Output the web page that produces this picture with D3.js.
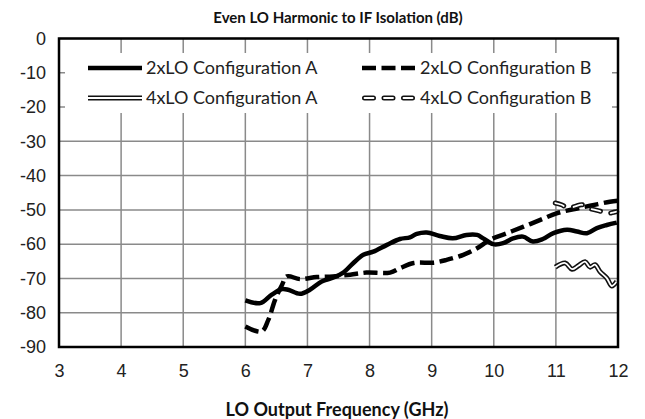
<!DOCTYPE html>
<meta charset="utf-8">
<style type="text/css">
body {
  margin: 0;
  background: #fff;
  font-family: Lato, "Liberation Sans", sans-serif;
}

.axis text {
  font-size: 18px;
  fill: #222;
}

.axis path {
  display: none;
}

.grid line {
  stroke: #8a8a8a;
  stroke-width: 1.5px;
}

.legend text {
  font-size: 18px;
  fill: #222;
}

.title {
  font-weight: bold;
  fill: #111;
}
</style>
<body>
</body>

<script src="https://cdn.jsdelivr.net/npm/d3@7"></script>
<script>
var xTicks = [3, 4, 5, 6, 7, 8, 9, 10, 11, 12];
var yTicks = [0, -10, -20, -30, -40, -50, -60, -70, -80, -90];

var freqA2 = [6.0, 6.24, 6.42, 6.59, 6.69, 6.88, 7.04, 7.23, 7.41, 7.57, 7.74, 7.9, 8.06, 8.28, 8.49, 8.65, 8.76, 8.92, 9.13, 9.34, 9.56, 9.73, 9.83, 9.99, 10.15, 10.31, 10.47, 10.63, 10.79, 10.96, 11.18, 11.34, 11.5, 11.66, 11.82, 11.98];
var isoA2 = [-76.4, -77.2, -74.8, -73.1, -73.3, -74.5, -73.3, -70.9, -69.8, -68.4, -65.5, -63.1, -62.2, -60.2, -58.5, -58.0, -57.0, -56.6, -57.6, -58.3, -57.3, -57.3, -58.3, -60.0, -59.7, -58.3, -57.8, -59.2, -58.5, -56.8, -55.8, -56.3, -56.8, -55.3, -54.4, -53.7];

var freqB2 = [6.0, 6.26, 6.37, 6.48, 6.59, 6.67, 6.88, 7.15, 7.41, 7.69, 7.95, 8.33, 8.49, 8.71, 9.03, 9.24, 9.51, 9.73, 9.94, 10.21, 10.48, 10.75, 11.01, 11.28, 11.55, 11.87, 12.0];
var isoB2 = [-84.0, -85.5, -82.1, -76.2, -71.9, -69.4, -70.2, -69.6, -69.4, -68.9, -68.3, -68.3, -67.0, -65.5, -65.4, -64.6, -63.1, -61.2, -58.7, -56.8, -54.9, -52.9, -51.0, -49.8, -48.8, -47.6, -47.3];

var freqA4 = [10.99, 11.15, 11.26, 11.36, 11.47, 11.55, 11.63, 11.71, 11.82, 11.9, 11.98];
var isoA4 = [-66.7, -65.5, -67.3, -66.3, -65.1, -66.7, -66.0, -68.0, -69.9, -72.2, -70.9];

var freqB4 = [10.99, 11.09, 11.2, 11.31, 11.42, 11.52, 11.63, 11.74, 11.85, 11.93, 11.98];
var isoB4 = [-48.0, -48.5, -49.5, -49.0, -48.5, -49.5, -50.0, -50.5, -51.0, -50.7, -50.5];

var seriesNames = ["2xLO Configuration A", "2xLO Configuration B", "4xLO Configuration A", "4xLO Configuration B"];

var margin = { top: 38.5, right: 27, bottom: 72, left: 59 };
var width = 645 - margin.left - margin.right;
var height = 419 - margin.top - margin.bottom;

var root = d3.select("body")
  .append("svg")
    .attr("width", 645)
    .attr("height", 419);

root.append("rect")
  .attr("width", 645)
  .attr("height", 419)
  .attr("fill", "#fff");

var svg = root.append("g")
  .attr("transform", "translate(" + margin.left + "," + margin.top + ")");

var xscale = d3.scaleLinear()
  .domain([3, 12])
  .range([0, width]);

var yscale = d3.scaleLinear()
  .domain([-90, 0])
  .range([height, 0]);

// gridlines
var grid = svg.append("g").attr("class", "grid");

grid.selectAll("line.v")
  .data(xTicks)
  .enter().append("line")
    .attr("class", "v")
    .attr("x1", function(d) { return xscale(d); })
    .attr("x2", function(d) { return xscale(d); })
    .attr("y1", 0)
    .attr("y2", height);

grid.selectAll("line.h")
  .data(yTicks)
  .enter().append("line")
    .attr("class", "h")
    .attr("x1", 0)
    .attr("x2", width)
    .attr("y1", function(d) { return yscale(d); })
    .attr("y2", function(d) { return yscale(d); });

var xAxis = d3.axisBottom(xscale)
  .tickValues(xTicks)
  .tickSize(0)
  .tickPadding(17)
  .tickFormat(function(d) { return String(d); });

var yAxis = d3.axisLeft(yscale)
  .tickValues(yTicks)
  .tickSize(0)
  .tickPadding(13)
  .tickFormat(function(d) { return String(d); });

svg.append("g")
  .attr("class", "x axis")
  .attr("transform", "translate(0," + height + ")")
  .call(xAxis);

svg.append("g")
  .attr("class", "y axis")
  .call(yAxis);

// legend box covers the grid
var legend = svg.append("g").attr("class", "legend");

legend.append("rect")
  .attr("x", 6)
  .attr("y", 14.5)
  .attr("width", width - 12)
  .attr("height", 60)
  .attr("fill", "#fff");

var line = d3.line()
  .curve(d3.curveCatmullRom)
  .x(function(d) { return xscale(d[0]); })
  .y(function(d) { return yscale(d[1]); });

function pairs(xs, ys) {
  return xs.map(function(x, i) { return [x, ys[i]]; });
}

var styles = [
  { data: pairs(freqA2, isoA2), dash: null, double: false },
  { data: pairs(freqB2, isoB2), dash: "14,5.5", double: false },
  { data: pairs(freqA4, isoA4), dash: null, double: true },
  { data: pairs(freqB4, isoB4), dash: "9,10.5", double: true }
];

function drawStroke(sel, s, gen) {
  if (s.double) {
    sel.append("path")
      .attr("d", gen)
      .attr("fill", "none")
      .attr("stroke", "#111")
      .attr("stroke-width", 5)
      .attr("stroke-linecap", s.dash ? "round" : "butt")
      .attr("stroke-dasharray", s.dash);
    sel.append("path")
      .attr("d", gen)
      .attr("fill", "none")
      .attr("stroke", "#fff")
      .attr("stroke-width", 1.8)
      .attr("stroke-linecap", s.dash ? "round" : "butt")
      .attr("stroke-dasharray", s.dash);
  } else {
    sel.append("path")
      .attr("d", gen)
      .attr("fill", "none")
      .attr("stroke", "#000")
      .attr("stroke-width", 4.5)
      .attr("stroke-dasharray", s.dash);
  }
}

var plot = svg.append("g");
styles.forEach(function(s) {
  drawStroke(plot.append("g"), s, line(s.data));
});

// legend entries
var legendPos = [[29, 29.5], [303, 29.5], [29, 59.5], [303, 59.5]];
seriesNames.forEach(function(name, i) {
  var g = legend.append("g")
    .attr("transform", "translate(" + legendPos[i][0] + "," + legendPos[i][1] + ")");
  var sample = styles[i].dash && styles[i].double ? "M2.5,0H51.5" : "M0,0H54";
  drawStroke(g, styles[i], sample);
  g.append("text")
    .attr("x", 58)
    .attr("y", 0)
    .attr("dy", "0.36em")
    .text(name);
});

// border
svg.append("rect")
  .attr("width", width)
  .attr("height", height)
  .attr("fill", "none")
  .attr("stroke", "#000")
  .attr("stroke-width", 2.5);

root.append("text")
  .attr("class", "title")
  .attr("x", 338)
  .attr("y", 23)
  .attr("text-anchor", "middle")
  .style("font-size", "15px")
  .text("Even LO Harmonic to IF Isolation (dB)");

root.append("text")
  .attr("class", "title")
  .attr("x", 337)
  .attr("y", 416)
  .attr("text-anchor", "middle")
  .style("font-size", "18px")
  .text("LO Output Frequency (GHz)");
</script>
